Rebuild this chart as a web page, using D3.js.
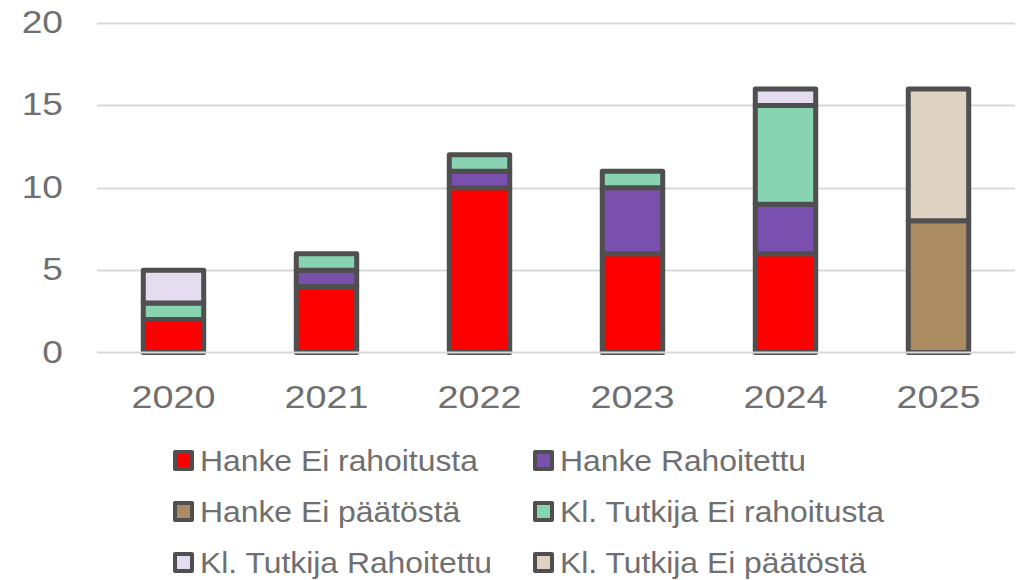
<!DOCTYPE html>
<html><head><meta charset="utf-8">
<script src="https://cdn.jsdelivr.net/npm/d3@7"></script>
<style>
html,body{margin:0;padding:0;background:#fff;}
svg text{font-family:"Liberation Sans",Arial,sans-serif;fill:#6f6f6f;}
</style></head>
<body>
<svg id="chart" width="1023" height="580"></svg>
<script>
const years = ["2020","2021","2022","2023","2024","2025"];
const seriesNames = ["Hanke Ei rahoitusta","Hanke Rahoitettu","Hanke Ei päätöstä","Kl. Tutkija Ei rahoitusta","Kl. Tutkija Rahoitettu","Kl. Tutkija Ei päätöstä"];
const seriesColors = ["#ff0000","#7a50ae","#aa8b62","#88d4b2","#e3ddef","#ded3c3"];
const hankeEiRahoitusta = [2,4,10,6,6,0];
const hankeRahoitettu = [0,1,1,4,3,0];
const hankeEiPaatosta = [0,0,0,0,0,8];
const tutkijaEiRahoitusta = [1,1,1,1,6,0];
const tutkijaRahoitettu = [2,0,0,0,1,0];
const tutkijaEiPaatosta = [0,0,0,0,0,8];
const yTicks = [0,5,10,15,20];

const seriesValues = [hankeEiRahoitusta,hankeRahoitettu,hankeEiPaatosta,tutkijaEiRahoitusta,tutkijaRahoitettu,tutkijaEiPaatosta];
const table = years.map((y,i)=>{const o={year:y}; seriesNames.forEach((n,j)=>o[n]=seriesValues[j][i]); return o;});
const stack = d3.stack().keys(seriesNames)(table);

const svg = d3.select("#chart");
const x = d3.scaleBand().domain(years).range([97,1015]).paddingInner(0.605).paddingOuter(0.3025);
const y = d3.scaleLinear().domain([0,20]).range([352.5,23]);

// gridlines
svg.append("g").selectAll("line").data(yTicks.filter(t=>t>0)).join("line")
  .attr("x1",97).attr("x2",1015).attr("y1",d=>Math.round(y(d))+0.5).attr("y2",d=>Math.round(y(d))+0.5)
  .attr("stroke","#d9d9d9").attr("stroke-width",2);

// y tick labels
svg.append("g").selectAll("text").data(yTicks).join("text")
  .attr("transform",d=>`translate(63,${y(d)-1.5}) scale(1.16,1)`)
  .attr("dy","0.36em").attr("text-anchor","end")
  .style("font-size","32px").text(d=>d);

// bars
const g = svg.append("g");
stack.forEach((s,j)=>{
  g.append("g").selectAll("rect").data(s.filter(d=>d[1]-d[0]>0)).join("rect")
    .attr("x",d=>x(d.data.year)).attr("width",x.bandwidth())
    .attr("y",d=>y(d[1])).attr("height",d=>y(d[0])-y(d[1]))
    .attr("fill",seriesColors[j]).attr("stroke","#4f4f4f").attr("stroke-width",5)
    .attr("stroke-linejoin","round");
});

// zero line
svg.append("line").attr("x1",97).attr("x2",1015).attr("y1",y(0)).attr("y2",y(0))
  .attr("stroke","#d9d9d9").attr("stroke-width",2);

// x labels
svg.append("g").selectAll("text").data(years).join("text")
  .attr("transform",d=>`translate(${x(d)+x.bandwidth()/2},396.5) scale(1.18,1)`)
  .attr("dy","0.36em").attr("text-anchor","middle")
  .style("font-size","32px").text(d=>d);

// legend
const legX = [173,533];
const legY = [460.5,511.5,562.5];
const leg = svg.append("g").selectAll("g").data(seriesNames).join("g")
  .attr("transform",(d,i)=>`translate(${legX[i%2]},${legY[Math.floor(i/2)]})`);
leg.append("rect").attr("x",2).attr("y",-8.5).attr("width",17).attr("height",17)
  .attr("fill",(d,i)=>seriesColors[i]).attr("stroke","#4f4f4f").attr("stroke-width",4).attr("stroke-linejoin","round");
leg.append("text").attr("transform","translate(27,0) scale(1.08,1)").attr("dy","0.36em").style("font-size","29.5px").text(d=>d);
</script>
</body></html>
